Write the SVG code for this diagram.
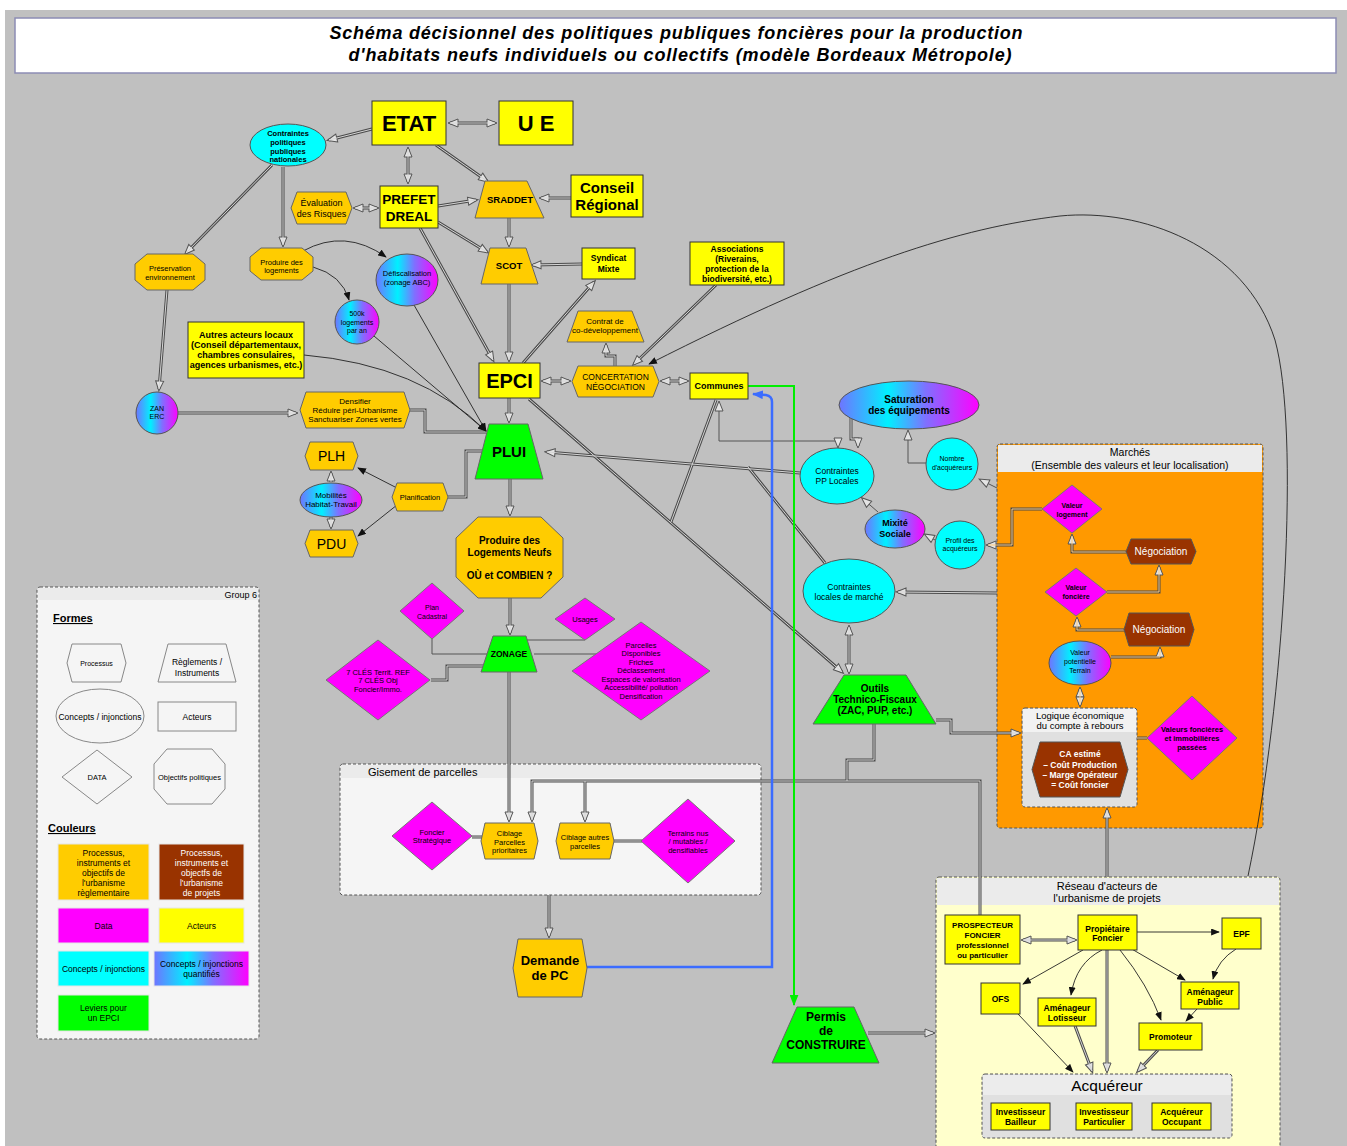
<svg xmlns="http://www.w3.org/2000/svg" xmlns:xlink="http://www.w3.org/1999/xlink" width="1347" height="1146" viewBox="0 0 1347 1146">
<style>
.tx{font-family:"Liberation Sans",Arial,Helvetica,sans-serif;text-anchor:middle;fill:#000}
.st{text-anchor:start}
.en{text-anchor:end}
.bd{font-weight:bold}
.wh{fill:#fff}
.act{fill:#ffff00;stroke:#333;stroke-width:1}
.org{fill:#ffcc00;stroke:#666;stroke-width:1}
.grn{fill:#00ff00;stroke:#666;stroke-width:1}
.cyn{fill:#00ffff;stroke:#555;stroke-width:1}
.grd{fill:url(#gq);stroke:#555;stroke-width:1}
.mag{fill:#ff00ff;stroke:#777;stroke-width:1}
.brn{fill:#993300;stroke:#555;stroke-width:1}
.lg{fill:none;stroke:#888;stroke-width:1}
.lc{stroke:#e6e6e6;stroke-width:1}
.grp{stroke:#555;stroke-width:1;stroke-dasharray:3,2}
.o{fill:none;stroke:#4a4a4a;stroke-width:3}
.i{fill:none;stroke:#d6d6d6;stroke-width:1}
.io{stroke:#ffcc80}
.me{marker-end:url(#ah)}
.mb{marker-start:url(#ah);marker-end:url(#ah)}
.s{fill:none;stroke:#555;stroke-width:1}
.f{fill:none;stroke:#222;stroke-width:0.9;marker-end:url(#af)}
</style>
<defs>
<linearGradient id="gq" x1="0" y1="0" x2="1" y2="0">
<stop offset="0" stop-color="#6f74ff"/>
<stop offset="0.35" stop-color="#00f0ff"/>
<stop offset="0.62" stop-color="#7f70ff"/>
<stop offset="1" stop-color="#ff00ff"/>
</linearGradient>
<marker id="ah" viewBox="0 0 12 10" refX="9" refY="5" markerWidth="12" markerHeight="10" markerUnits="userSpaceOnUse" orient="auto-start-reverse"><path d="M1,1 L11,5 L1,9 Z" fill="#e4e4e4" stroke="#555" stroke-width="1"/></marker>
<marker id="af" viewBox="0 0 10 8" refX="9" refY="4" markerWidth="9" markerHeight="7" markerUnits="userSpaceOnUse" orient="auto"><path d="M0,0 L10,4 L0,8 Z" fill="#111"/></marker>
<marker id="ag" viewBox="0 0 10 8" refX="9" refY="4" markerWidth="11" markerHeight="9" markerUnits="userSpaceOnUse" orient="auto"><path d="M0,0 L10,4 L0,8 Z" fill="#00ee00"/></marker>
<marker id="ab" viewBox="0 0 10 8" refX="9" refY="4" markerWidth="11" markerHeight="9" markerUnits="userSpaceOnUse" orient="auto"><path d="M0,0 L10,4 L0,8 Z" fill="#3b6cff"/></marker>
<path id="c1" d="M450,123 L495,123"/>
<path id="c2" d="M372,129 L329,140"/>
<path id="c3" d="M408,149 L408,182"/>
<path id="c4" d="M436,145 L487,181"/>
<path id="c5" d="M438,206 L476,200"/>
<path id="c6" d="M438,222 L487,252"/>
<path id="c7" d="M420,228 L493,360"/>
<path id="c8" d="M355,208 L377,208"/>
<path id="c9" d="M272,165 L186,253"/>
<path id="c10" d="M283,167 L283,245"/>
<path id="c11" d="M167,290 L159,389"/>
<path id="c12" d="M178,413 L296,413"/>
<path id="c13" d="M410,410 L425,410 L425,432 L486,432"/>
<path id="c14" d="M509,218 L509,245"/>
<path id="c15" d="M571,198 L541,198"/>
<path id="c16" d="M582,264 L533,265"/>
<path id="c17" d="M509,284 L509,360"/>
<path id="c18" d="M523,363 L594,282"/>
<path id="c19" d="M543,381 L569,381"/>
<path id="c20" d="M615,366 L615,356 L606,356 L606,345"/>
<path id="c21" d="M716,285 L634,364"/>
<path id="c22" d="M662,381 L687,381"/>
<path id="c23" d="M509,398 L509,421"/>
<path id="c24" d="M529,399 L842,672"/>
<path id="c25" d="M800,473 L547,452"/>
<path id="c26" d="M825,563 L748,467"/>
<path id="c27" d="M716,400 L671,522"/>
<path id="c28" d="M851,418 L851,439 L858,439 L858,446"/>
<path id="c32" d="M1042,509 L1012,509 L1012,545 L988,545"/>
<path id="c33" d="M997,593 L898,592"/>
<path id="c34" d="M1126,552 L1072,552 L1072,536"/>
<path id="c35" d="M1107,592 L1159,592 L1159,567"/>
<path id="c36" d="M1124,630 L1077,630 L1077,619"/>
<path id="c37" d="M1111,657 L1160,657 L1160,649"/>
<path id="c38" d="M1080,689 L1080,705"/>
<path id="c39" d="M1147,738 L1137,738"/>
<path id="c40" d="M936,720 L951,720 L951,733 L1019,733"/>
<path id="c41" d="M849,627 L849,672"/>
<path id="c42" d="M874,724 L874,760 L847,760 L847,781"/>
<path id="c43" d="M980,915 L980,781 L532,781 L532,820"/>
<path id="c44" d="M585,781 L585,820"/>
<path id="c45" d="M509,672 L509,820"/>
<path id="c46" d="M510,598 L510,633"/>
<path id="c47" d="M510,479 L510,514"/>
<path id="c48" d="M431,680 L447,680 L447,666 L484,666"/>
<path id="c49" d="M331,482 L331,473"/>
<path id="c50" d="M331,517 L331,527"/>
<path id="c51" d="M448,497 L466,497 L466,451 L484,451"/>
<path id="c52" d="M472,837 L482,837"/>
<path id="c53" d="M614,841 L642,841"/>
<path id="c54" d="M549,895 L549,936"/>
<path id="c55" d="M868,1033 L933,1033"/>
<path id="c56" d="M1107,877 L1107,810"/>
<path id="c57" d="M1023,940 L1075,940"/>
<path id="c58" d="M1107,950 L1107,1071"/>
<path id="c59" d="M1075,1026 L1092,1071"/>
<path id="c60" d="M1158,1050 L1138,1071"/>
</defs>

<rect width="1347" height="1146" fill="#ffffff"/>
<rect x="5" y="10" width="1342" height="1136" fill="#c0c0c0"/>

<g id="title">
<rect x="15" y="18" width="1321" height="55" fill="#ffffff" stroke="#8c8cb4" stroke-width="1.5"/>
<text class="tx bd" x="676" y="39" font-size="18" font-style="italic" textLength="693">Schéma décisionnel des politiques publiques foncières pour la production</text>
<text class="tx bd" x="680" y="61" font-size="18" font-style="italic" textLength="663">d'habitats neufs individuels ou collectifs (modèle Bordeaux Métropole)</text>
</g>

<!-- containers -->
<g id="grp-legende">
<rect class="grp" x="37" y="587" width="222" height="452" rx="3" fill="#f5f5f5"/>
<rect x="38" y="588" width="220" height="12" fill="#ebebeb"/>
<text class="tx en" x="257" y="598" font-size="9">Group 6</text>
</g>
<g id="grp-gisement">
<rect class="grp" x="340" y="764" width="421" height="131" rx="3" fill="#f5f5f5"/>
<rect x="341" y="765" width="419" height="13" fill="#ebebeb"/>
<text class="tx st" x="368" y="776" font-size="11">Gisement  de parcelles</text>
</g>
<g id="grp-marches">
<rect class="grp" x="997" y="444" width="266" height="384" rx="3" fill="#ff9900"/>
<rect x="998" y="445" width="264" height="27" fill="#ebebeb"/>
<text class="tx" x="1130" y="456" font-size="10.5">Marchés</text>
<text class="tx" x="1130" y="469" font-size="10.5">(Ensemble des valeurs et leur localisation)</text>
</g>
<g id="grp-logique">
<rect class="grp" x="1022" y="708" width="115" height="99" rx="3" fill="#e0e0e0"/>
<rect x="1023" y="709" width="113" height="23" fill="#f2f2f2"/>
<text class="tx" x="1080" y="719" font-size="9.5">Logique économique</text>
<text class="tx" x="1080" y="729" font-size="9.5">du compte à rebours</text>
</g>
<g id="grp-reseau">
<rect class="grp" x="936" y="877" width="344" height="280" rx="3" fill="#ffffcc"/>
<rect x="937" y="878" width="342" height="27" fill="#ebebeb"/>
<text class="tx" x="1107" y="890" font-size="11">Réseau d'acteurs de</text>
<text class="tx" x="1107" y="902" font-size="11">l'urbanisme de projets</text>
</g>
<g id="grp-acquereur">
<rect class="grp" x="982" y="1074" width="250" height="64" rx="3" fill="#e0e0e0"/>
<rect x="983" y="1075" width="248" height="20" fill="#ececec"/>
<text class="tx" x="1107" y="1091" font-size="15.5">Acquéreur</text>
</g>

<g id="connectors">
<g class="o">
<use href="#c1" class="mb"/><use href="#c2" class="me"/><use href="#c3" class="mb"/><use href="#c4" class="me"/>
<use href="#c5" class="me"/><use href="#c6" class="me"/><use href="#c7" class="me"/><use href="#c8" class="mb"/>
<use href="#c9" class="me"/><use href="#c10" class="me"/><use href="#c11" class="me"/><use href="#c12" class="me"/>
<use href="#c13"/><use href="#c14" class="me"/><use href="#c15" class="me"/><use href="#c16" class="me"/>
<use href="#c17" class="me"/><use href="#c18" class="me"/><use href="#c19" class="mb"/><use href="#c20" class="me"/>
<use href="#c21" class="me"/><use href="#c22" class="mb"/><use href="#c23" class="me"/><use href="#c24" class="me"/>
<use href="#c25" class="me"/><use href="#c26"/><use href="#c27"/><use href="#c28" class="me"/>
<use href="#c32" class="me"/><use href="#c33" class="me"/><use href="#c34" class="me"/><use href="#c35" class="me"/>
<use href="#c36" class="me"/><use href="#c37" class="me"/><use href="#c38" class="mb"/><use href="#c39"/>
<use href="#c40" class="me"/><use href="#c41" class="mb"/><use href="#c42"/><use href="#c43" class="me"/>
<use href="#c44" class="me"/><use href="#c45" class="me"/><use href="#c46" class="me"/><use href="#c47" class="me"/>
<use href="#c48"/><use href="#c49" class="me"/><use href="#c50" class="me"/><use href="#c51"/>
<use href="#c52"/><use href="#c53"/><use href="#c54" class="me"/><use href="#c55" class="me"/>
<use href="#c56" class="me"/><use href="#c57" class="mb"/><use href="#c58" class="me"/><use href="#c59" class="me"/>
<use href="#c60" class="me"/>
</g>
<g class="i">
<use href="#c1"/><use href="#c2"/><use href="#c3"/><use href="#c4"/><use href="#c5"/><use href="#c6"/><use href="#c7"/><use href="#c8"/>
<use href="#c9"/><use href="#c10"/><use href="#c11"/><use href="#c12"/><use href="#c13"/><use href="#c14"/><use href="#c15"/><use href="#c16"/>
<use href="#c17"/><use href="#c18"/><use href="#c19"/><use href="#c20"/><use href="#c21"/><use href="#c22"/><use href="#c23"/><use href="#c24"/>
<use href="#c25"/><use href="#c26"/><use href="#c27"/><use href="#c28"/><use href="#c33"/>
<use href="#c40"/><use href="#c41"/><use href="#c42"/><use href="#c43"/><use href="#c44"/><use href="#c45"/><use href="#c46"/><use href="#c47"/>
<use href="#c48"/><use href="#c49"/><use href="#c50"/><use href="#c51"/><use href="#c52"/><use href="#c53"/><use href="#c54"/><use href="#c55"/>
<use href="#c56"/><use href="#c57"/><use href="#c58"/><use href="#c59"/><use href="#c60"/>
</g>
<g class="i io">
<use href="#c32"/><use href="#c34"/><use href="#c35"/><use href="#c36"/><use href="#c37"/><use href="#c38"/><use href="#c39"/>
</g>
<path class="s mb" d="M719,403 L719,441 L838,441 L838,446"/>
<path class="s me" d="M927,463 L908,463 L908,432"/>
<path class="s me" d="M997,488 L981,480"/>
<path class="s me" d="M935,540 L926,535"/>
<path class="s me" d="M878,512 L863,499"/>
<path class="s" d="M432,639 L432,654 L487,654"/>
<path class="s" d="M585,640 L525,640"/>
<path class="s" d="M534,654 L596,654"/>
<path class="f" d="M303,251 Q345,228 386,257"/>
<path class="f" d="M313,267 Q342,275 349,300"/>
<path class="f" d="M414,305 L486,431"/>
<path class="f" d="M374,336 L486,431"/>
<path class="f" d="M304,355 Q420,365 486,431"/>
<path class="f" d="M397,488 L358,468"/>
<path class="f" d="M397,505 L358,536"/>
<path class="f" d="M1248,876 C1285,700 1300,430 1275,340 C1245,245 1140,208 1060,216 C960,228 850,262 649,364"/>
<path class="f" d="M1137,932 L1219,932"/>
<path class="f" d="M1083,950 L1023,984"/>
<path class="f" d="M1102,950 Q1076,963 1071,995"/>
<path class="f" d="M1120,950 Q1148,985 1161,1020"/>
<path class="f" d="M1130,948 L1185,980"/>
<path class="f" d="M1236,949 Q1218,960 1213,979"/>
<path class="f" d="M1197,1009 L1186,1021"/>
<path class="f" d="M1018,1014 L1073,1072"/>
<path d="M748,386 L794,386 L794,1005" fill="none" stroke="#00ee00" stroke-width="2" marker-end="url(#ag)"/>
<path d="M587,967 L772,967 L772,402 Q772,396 766,395 L753,394" fill="none" stroke="#3b6cff" stroke-width="2.5" marker-end="url(#ab)"/>
</g>

<!-- nodes -->
<g id="n-etat"><rect class="act" x="372" y="101" width="74" height="44"/><text class="tx bd" x="409" y="131" font-size="22">ETAT</text></g>
<g id="n-ue"><rect class="act" x="499" y="101" width="74" height="44"/><text class="tx bd" x="536" y="131" font-size="22">U E</text></g>
<g id="n-prefet"><rect class="act" x="380" y="186" width="58" height="42"/><text class="tx bd" x="409" y="204" font-size="13.5">PREFET</text><text class="tx bd" x="409" y="221" font-size="13.5">DREAL</text></g>
<g id="n-conseil"><rect class="act" x="571" y="175" width="72" height="42"/><text class="tx bd" x="607" y="193" font-size="15">Conseil</text><text class="tx bd" x="607" y="210" font-size="15">Régional</text></g>
<g id="n-syndicat"><rect class="act" x="582" y="248" width="53" height="31"/><text class="tx bd" x="608.5" y="261" font-size="8.5">Syndicat</text><text class="tx bd" x="608.5" y="272" font-size="8.5">Mixte</text></g>
<g id="n-assoc"><rect class="act" x="690" y="242" width="94" height="43"/><text class="tx bd" x="737" y="252" font-size="8.5">Associations</text><text class="tx bd" x="737" y="262" font-size="8.5">(Riverains,</text><text class="tx bd" x="737" y="272" font-size="8.5">protection de la</text><text class="tx bd" x="737" y="282" font-size="8.5">biodiversité, etc.)</text></g>
<g id="n-autres"><rect class="act" x="188" y="322" width="116" height="56"/><text class="tx bd" x="246" y="338" font-size="9">Autres acteurs locaux</text><text class="tx bd" x="246" y="348" font-size="9">(Conseil départementaux,</text><text class="tx bd" x="246" y="358" font-size="9">chambres consulaires,</text><text class="tx bd" x="246" y="368" font-size="9">agences urbanismes, etc.)</text></g>
<g id="n-epci"><rect class="act" x="479" y="363" width="61" height="35"/><text class="tx bd" x="509.5" y="388" font-size="20">EPCI</text></g>
<g id="n-communes"><rect class="act" x="690" y="373" width="58" height="26"/><text class="tx bd" x="719" y="389" font-size="9">Communes</text></g>

<g id="n-sraddet"><polygon class="org" points="485,181 527,181 544,218 475,218"/><text class="tx bd" x="510" y="203" font-size="9.5">SRADDET</text></g>
<g id="n-scot"><polygon class="org" points="490,248 526,248 538,284 481,284"/><text class="tx bd" x="509" y="269" font-size="9.5">SCOT</text></g>
<g id="n-contrat"><polygon class="org" points="578,311 632,311 644,342 567,342"/><text class="tx" x="605" y="324" font-size="8">Contrat de</text><text class="tx" x="605" y="333" font-size="8">co-développement</text></g>
<g id="n-plui"><polygon class="grn" points="489,424 528,424 543,479 475,479"/><text class="tx bd" x="509" y="457" font-size="15">PLUI</text></g>
<g id="n-zonage"><polygon class="grn" points="493,636 526,636 537,672 481,672"/><text class="tx bd" x="509" y="657" font-size="8.5">ZONAGE</text></g>
<g id="n-outils"><polygon class="grn" points="844,675 906,675 936,724 813,724"/><text class="tx bd" x="875" y="692" font-size="10">Outils</text><text class="tx bd" x="875" y="703" font-size="10">Technico-Fiscaux</text><text class="tx bd" x="875" y="714" font-size="10">(ZAC, PUP,  etc.)</text></g>
<g id="n-permis"><polygon class="grn" points="797,1007 854,1007 879,1063 772,1063"/><text class="tx bd" x="826" y="1021" font-size="12">Permis</text><text class="tx bd" x="826" y="1035" font-size="12">de</text><text class="tx bd" x="826" y="1049" font-size="12">CONSTRUIRE</text></g>

<g id="n-evaluation"><polygon class="org" points="297,192 346,192 352,208 346,224 297,224 291,208"/><text class="tx" x="321.5" y="206" font-size="9">Évaluation</text><text class="tx" x="321.5" y="217" font-size="9">des Risques</text></g>
<g id="n-concertation"><polygon class="org" points="578,366 653,366 659,381.5 653,397 578,397 572,381.5"/><text class="tx" x="615.5" y="380" font-size="8.5">CONCERTATION</text><text class="tx" x="615.5" y="390" font-size="8.5">NÉGOCIATION</text></g>
<g id="n-densifier"><polygon class="org" points="306,392 404,392 410,410 404,428 306,428 300,410"/><text class="tx" x="355" y="404" font-size="8">Densifier</text><text class="tx" x="355" y="413" font-size="8">Réduire péri-Urbanisme</text><text class="tx" x="355" y="422" font-size="8">Sanctuariser Zones vertes</text></g>
<g id="n-plh"><polygon class="org" points="310,442 353,442 358,456 353,470 310,470 305,456"/><text class="tx" x="331.5" y="461" font-size="14">PLH</text></g>
<g id="n-pdu"><polygon class="org" points="310,530 353,530 358,543.5 353,557 310,557 305,543.5"/><text class="tx" x="331.5" y="549" font-size="14">PDU</text></g>
<g id="n-planif"><polygon class="org" points="397,483 443,483 448,497 443,511 397,511 392,497"/><text class="tx" x="420" y="499.5" font-size="7.5">Planification</text></g>
<g id="n-nego1"><polygon class="brn" points="1131,539 1191,539 1196,551.5 1191,564 1131,564 1126,551.5"/><text class="tx wh" x="1161" y="555" font-size="10">Négociation</text></g>
<g id="n-nego2"><polygon class="brn" points="1129,613 1189,613 1194,629.5 1189,646 1129,646 1124,629.5"/><text class="tx wh" x="1159" y="633" font-size="10">Négociation</text></g>
<g id="n-ca"><polygon class="brn" points="1040,742 1120,742 1128,769.5 1120,797 1040,797 1032,769.5"/><text class="tx bd wh" x="1080" y="757" font-size="8.5">CA estimé</text><text class="tx bd wh" x="1080" y="768" font-size="8.5">– Coût Production</text><text class="tx bd wh" x="1080" y="778" font-size="8.5">– Marge Opérateur</text><text class="tx bd wh" x="1080" y="788" font-size="8.5">= Coût foncier</text></g>
<g id="n-ciblage1"><polygon class="org" points="485,823 534,823 538,841 534,859 485,859 481,841"/><text class="tx" x="509.5" y="836" font-size="7.5">Ciblage</text><text class="tx" x="509.5" y="844.5" font-size="7.5">Parcelles</text><text class="tx" x="509.5" y="853" font-size="7.5">prioritaires</text></g>
<g id="n-ciblage2"><polygon class="org" points="560,823 610,823 614,841 610,859 560,859 556,841"/><text class="tx" x="585" y="840" font-size="7.5">Ciblage autres</text><text class="tx" x="585" y="848.5" font-size="7.5">parcelles</text></g>
<g id="n-demande"><polygon class="org" points="518,939 582,939 587,968 582,997 518,997 513,968"/><text class="tx bd" x="550" y="965" font-size="13">Demande</text><text class="tx bd" x="550" y="980" font-size="13">de PC</text></g>

<g id="n-preservation"><polygon class="org" points="147,254 193,254 205,264 205,280 193,290 147,290 135,280 135,264"/><text class="tx" x="170" y="271" font-size="7.5">Préservation</text><text class="tx" x="170" y="280" font-size="7.5">environnement</text></g>
<g id="n-produire"><polygon class="org" points="261,248 302,248 313,257 313,271 302,280 261,280 250,271 250,257"/><text class="tx" x="281.5" y="265" font-size="7.5">Produire des</text><text class="tx" x="281.5" y="273" font-size="7.5">logements</text></g>
<g id="n-neufs"><polygon class="org" points="478,517 541,517 563,538 563,577 541,598 478,598 456,577 456,538"/><text class="tx bd" x="509.5" y="544" font-size="10">Produire des</text><text class="tx bd" x="509.5" y="556" font-size="10">Logements Neufs</text><text class="tx bd" x="509.5" y="579" font-size="10">OÙ et COMBIEN ?</text></g>

<g id="n-cpn"><ellipse class="cyn" cx="288" cy="145" rx="38" ry="21"/><text class="tx bd" x="288" y="136" font-size="7.5">Contraintes</text><text class="tx bd" x="288" y="145" font-size="7.5">politiques</text><text class="tx bd" x="288" y="153.5" font-size="7.5">publiques</text><text class="tx bd" x="288" y="162" font-size="7.5">nationales</text></g>
<g id="n-ppl"><ellipse class="cyn" cx="837" cy="476" rx="37" ry="28"/><text class="tx" x="837" y="474" font-size="8.5">Contraintes</text><text class="tx" x="837" y="484" font-size="8.5">PP Locales</text></g>
<g id="n-clm"><ellipse class="cyn" cx="849" cy="591" rx="46" ry="32"/><text class="tx" x="849" y="590" font-size="8.5">Contraintes</text><text class="tx" x="849" y="600" font-size="8.5">locales de marché</text></g>
<g id="n-nombre"><ellipse class="cyn" cx="952" cy="464" rx="26" ry="26"/><text class="tx" x="952" y="461" font-size="7">Nombre</text><text class="tx" x="952" y="470" font-size="7">d'acquéreurs</text></g>
<g id="n-profil"><ellipse class="cyn" cx="960" cy="545" rx="25" ry="24"/><text class="tx" x="960" y="543" font-size="7">Profil des</text><text class="tx" x="960" y="551" font-size="7">acquéreurs</text></g>

<g id="n-defisc"><ellipse class="grd" cx="407" cy="280" rx="31" ry="26"/><text class="tx" x="407" y="276" font-size="7.5">Défiscalisation</text><text class="tx" x="407" y="285" font-size="7.5">(zonage ABC)</text></g>
<g id="n-500k"><ellipse class="grd" cx="357" cy="322" rx="22" ry="22"/><text class="tx" x="357" y="316" font-size="7">500k</text><text class="tx" x="357" y="325" font-size="7">logements</text><text class="tx" x="357" y="333" font-size="7">par an</text></g>
<g id="n-zan"><ellipse class="grd" cx="157" cy="413" rx="21" ry="21"/><text class="tx" x="157" y="411" font-size="7">ZAN</text><text class="tx" x="157" y="419" font-size="7">ERC</text></g>
<g id="n-mobilites"><ellipse class="grd" cx="331" cy="500" rx="31" ry="17"/><text class="tx" x="331" y="498" font-size="8">Mobilités</text><text class="tx" x="331" y="507" font-size="8">Habitat-Travail</text></g>
<g id="n-saturation"><ellipse class="grd" cx="909" cy="405" rx="70" ry="24"/><text class="tx bd" x="909" y="403" font-size="10">Saturation</text><text class="tx bd" x="909" y="414" font-size="10">des équipements</text></g>
<g id="n-mixite"><ellipse class="grd" cx="895" cy="529" rx="30" ry="19"/><text class="tx bd" x="895" y="526" font-size="9">Mixité</text><text class="tx bd" x="895" y="537" font-size="9">Sociale</text></g>
<g id="n-valpot"><ellipse class="grd" cx="1080" cy="663" rx="31" ry="22"/><text class="tx" x="1080" y="655" font-size="7">Valeur</text><text class="tx" x="1080" y="664" font-size="7">potentielle</text><text class="tx" x="1080" y="673" font-size="7">Terrain</text></g>

<g id="n-plan"><polygon class="mag" points="432,583 464,611 432,639 400,611"/><text class="tx" x="432" y="610" font-size="7">Plan</text><text class="tx" x="432" y="619" font-size="7">Cadastral</text></g>
<g id="n-usages"><polygon class="mag" points="585,598 615,619 585,640 555,619"/><text class="tx" x="585" y="622" font-size="7.5">Usages</text></g>
<g id="n-7cles"><polygon class="mag" points="378,640 430,680 378,720 326,680"/><text class="tx" x="378" y="674.5" font-size="7.5">7 CLÉS Territ. REF</text><text class="tx" x="378" y="683" font-size="7.5">7 CLÉS Obj</text><text class="tx" x="378" y="691.5" font-size="7.5">Foncier/Immo.</text></g>
<g id="n-parcelles"><polygon class="mag" points="641,622 710,671 641,720 572,671"/><text class="tx" x="641" y="647.5" font-size="7.5">Parcelles</text><text class="tx" x="641" y="656" font-size="7.5">Disponibles</text><text class="tx" x="641" y="664.5" font-size="7.5">Friches</text><text class="tx" x="641" y="673" font-size="7.5">Déclassement</text><text class="tx" x="641" y="681.5" font-size="7.5">Espaces de valorisation</text><text class="tx" x="641" y="690" font-size="7.5">Accessibilité/ pollution</text><text class="tx" x="641" y="698.5" font-size="7.5">Densification</text></g>
<g id="n-vallog"><polygon class="mag" points="1072,485 1102,509 1072,533 1042,509"/><text class="tx bd" x="1072" y="508" font-size="7">Valeur</text><text class="tx bd" x="1072" y="516.5" font-size="7">logement</text></g>
<g id="n-valfon"><polygon class="mag" points="1076,568 1107,592 1076,616 1045,592"/><text class="tx bd" x="1076" y="589.5" font-size="7">Valeur</text><text class="tx bd" x="1076" y="598.5" font-size="7">foncière</text></g>
<g id="n-valpass"><polygon class="mag" points="1192,696 1237,738 1192,780 1147,738"/><text class="tx bd" x="1192" y="731.5" font-size="7.5">Valeurs foncières</text><text class="tx bd" x="1192" y="740.5" font-size="7.5">et immobilières</text><text class="tx bd" x="1192" y="749.5" font-size="7.5">passées</text></g>
<g id="n-foncier"><polygon class="mag" points="432,802 472,836 432,870 392,836"/><text class="tx" x="432" y="834.5" font-size="7.5">Foncier</text><text class="tx" x="432" y="843" font-size="7.5">Stratégique</text></g>
<g id="n-terrains"><polygon class="mag" points="688,799 735,841 688,883 641,841"/><text class="tx" x="688" y="835.5" font-size="7.5">Terrains nus</text><text class="tx" x="688" y="844" font-size="7.5">/ mutables /</text><text class="tx" x="688" y="852.5" font-size="7.5">densifiables</text></g>

<g id="n-prospecteur"><rect class="act" x="945" y="915" width="75" height="49"/><text class="tx bd" x="982.5" y="928" font-size="8">PROSPECTEUR</text><text class="tx bd" x="982.5" y="938" font-size="8">FONCIER</text><text class="tx bd" x="982.5" y="948" font-size="8">professionnel</text><text class="tx bd" x="982.5" y="958" font-size="8">ou particulier</text></g>
<g id="n-proprietaire"><rect class="act" x="1078" y="915" width="59" height="35"/><text class="tx bd" x="1107.5" y="932" font-size="8.5">Propiétaire</text><text class="tx bd" x="1107.5" y="941" font-size="8.5">Foncier</text></g>
<g id="n-epf"><rect class="act" x="1222" y="918" width="39" height="31"/><text class="tx bd" x="1241.5" y="937" font-size="8.5">EPF</text></g>
<g id="n-ofs"><rect class="act" x="981" y="983" width="39" height="31"/><text class="tx bd" x="1000.5" y="1002" font-size="8.5">OFS</text></g>
<g id="n-lotisseur"><rect class="act" x="1038" y="998" width="58" height="28"/><text class="tx bd" x="1067" y="1011" font-size="8.5">Aménageur</text><text class="tx bd" x="1067" y="1021" font-size="8.5">Lotisseur</text></g>
<g id="n-ampublic"><rect class="act" x="1181" y="982" width="58" height="27"/><text class="tx bd" x="1210" y="995" font-size="8.5">Aménageur</text><text class="tx bd" x="1210" y="1005" font-size="8.5">Public</text></g>
<g id="n-promoteur"><rect class="act" x="1139" y="1023" width="63" height="27"/><text class="tx bd" x="1170.5" y="1040" font-size="8.5">Promoteur</text></g>
<g id="n-bailleur"><rect class="act" x="991" y="1103" width="59" height="27"/><text class="tx bd" x="1020.5" y="1115" font-size="8.5">Investisseur</text><text class="tx bd" x="1020.5" y="1125" font-size="8.5">Bailleur</text></g>
<g id="n-particulier"><rect class="act" x="1076" y="1103" width="56" height="27"/><text class="tx bd" x="1104" y="1115" font-size="8.5">Investisseur</text><text class="tx bd" x="1104" y="1125" font-size="8.5">Particulier</text></g>
<g id="n-occupant"><rect class="act" x="1152" y="1103" width="59" height="27"/><text class="tx bd" x="1181.5" y="1115" font-size="8.5">Acquéreur</text><text class="tx bd" x="1181.5" y="1125" font-size="8.5">Occupant</text></g>

<!-- legend content -->
<g id="legende">
<text class="tx st bd" x="53" y="622" font-size="11" style="text-decoration:underline">Formes</text>
<polygon class="lg" points="72,644 121,644 126,663 121,682 72,682 67,663"/><text class="tx" x="96.5" y="665.5" font-size="7">Processus</text>
<polygon class="lg" points="168,644 226,644 236,682 158,682"/><text class="tx" x="197" y="665" font-size="8.5">Règlements /</text><text class="tx" x="197" y="676" font-size="8.5">Instruments</text>
<ellipse class="lg" cx="100" cy="716" rx="44" ry="27"/><text class="tx" x="100" y="720" font-size="8.5">Concepts / injonctions</text>
<rect class="lg" x="158" y="702" width="78" height="29"/><text class="tx" x="197" y="720" font-size="8.5">Acteurs</text>
<polygon class="lg" points="97,750 132,777 97,804 62,777"/><text class="tx" x="97" y="780" font-size="7.5">DATA</text>
<polygon class="lg" points="167,749 212,749 225,764 225,789 212,804 167,804 154,789 154,764"/><text class="tx" x="189.5" y="780" font-size="7.5">Objectifs politiques</text>
<text class="tx st bd" x="48" y="832" font-size="11" style="text-decoration:underline">Couleurs</text>
<rect class="lc" x="58" y="844" width="91" height="56" fill="#ffcc00"/>
<text class="tx" x="103.5" y="856" font-size="8.5">Processus,</text><text class="tx" x="103.5" y="866" font-size="8.5">instruments et</text><text class="tx" x="103.5" y="876" font-size="8.5">objectifs de</text><text class="tx" x="103.5" y="886" font-size="8.5">l'urbanisme</text><text class="tx" x="103.5" y="896" font-size="8.5">règlementaire</text>
<rect class="lc" x="159" y="844" width="85" height="56" fill="#993300"/>
<text class="tx wh" x="201.5" y="856" font-size="8.5">Processus,</text><text class="tx wh" x="201.5" y="866" font-size="8.5">instruments et</text><text class="tx wh" x="201.5" y="876" font-size="8.5">objectfs de</text><text class="tx wh" x="201.5" y="886" font-size="8.5">l'urbanisme</text><text class="tx wh" x="201.5" y="896" font-size="8.5">de projets</text>
<rect class="lc" x="58" y="908" width="91" height="35" fill="#ff00ff"/><text class="tx" x="103.5" y="929" font-size="8.5">Data</text>
<rect class="lc" x="159" y="908" width="85" height="35" fill="#ffff00"/><text class="tx" x="201.5" y="929" font-size="8.5">Acteurs</text>
<rect class="lc" x="58" y="951" width="91" height="35" fill="#00ffff"/><text class="tx" x="103.5" y="972" font-size="8.5">Concepts / injonctions</text>
<rect class="lc" x="154" y="951" width="95" height="35" fill="url(#gq)"/><text class="tx" x="201.5" y="967" font-size="8.5">Concepts / injonctions</text><text class="tx" x="201.5" y="977" font-size="8.5">quantifiés</text>
<rect class="lc" x="58" y="995" width="91" height="36" fill="#00ff00"/><text class="tx" x="103.5" y="1011" font-size="8.5">Leviers pour</text><text class="tx" x="103.5" y="1021" font-size="8.5">un EPCI</text>
</g>
</svg>
